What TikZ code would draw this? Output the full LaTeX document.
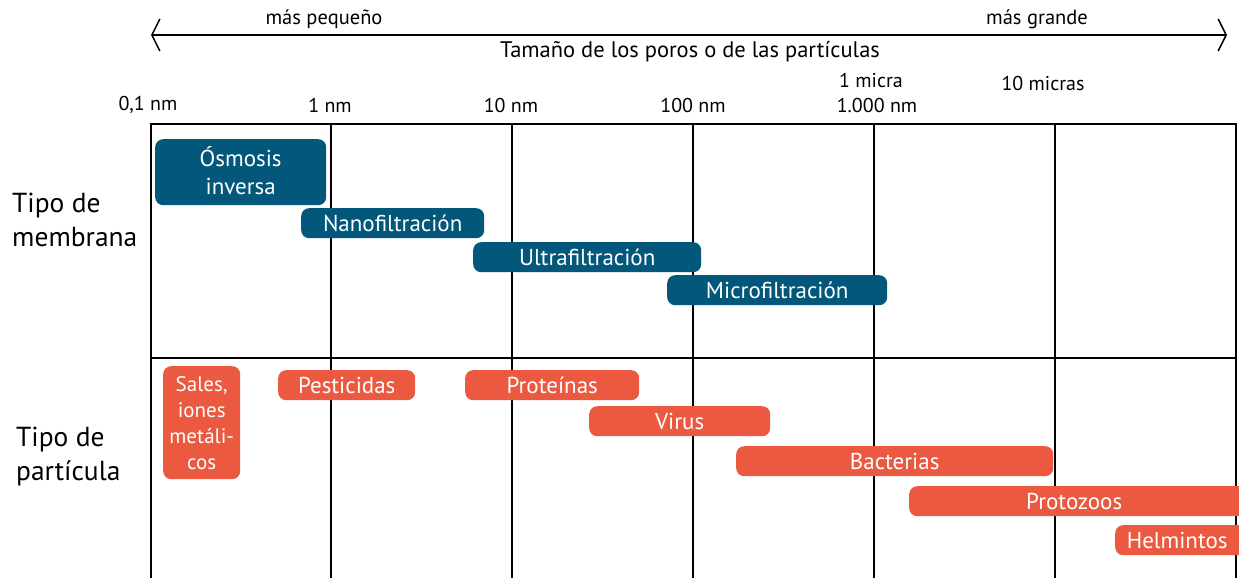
\documentclass[tikz,border=0pt]{standalone}
\usepackage{fontspec}
\setmainfont{PT Sans}
\usetikzlibrary{arrows.meta}
\definecolor{memb}{HTML}{03577A}
\definecolor{part}{HTML}{EB5A40}
\begin{document}
\begin{tikzpicture}[x=1pt,y=-1pt,
  grid/.style={line width=2pt,black},
  mbox/.style={fill=memb,rounded corners=8pt,anchor=north west,inner sep=0pt,text=white,font=\fontsize{23}{28}\selectfont,align=center},
  pbox/.style={fill=part,rounded corners=8pt,anchor=north west,inner sep=0pt,text=white,font=\fontsize{23}{25}\selectfont,align=center},
  hdr/.style={font=\fontsize{20.5}{22}\selectfont,inner sep=0pt},
  tick/.style={font=\fontsize{20}{22}\selectfont,inner sep=0pt},
  side/.style={font=\fontsize{27.5}{34}\selectfont,align=left,anchor=west,inner sep=0pt}]
\useasboundingbox (0,0) rectangle (1239,578);
\clip (0,0) rectangle (1239,578);
% header arrow
\coordinate (aL) at (151,35);
\coordinate (aR) at (1227,35);
\draw[line width=1.5pt,{Straight Barb[length=8pt,width=32pt]}-{Straight Barb[length=8pt,width=32pt]}] (aL) -- (aR);
\node[hdr] (small) at (324,19) {más pequeño};
\node[hdr] (big) at (1037,19) {más grande};
\node[hdr,font=\fontsize{22.5}{24}\selectfont] (title) at (690,52) {Tamaño de los poros o de las partículas};
% ticks
\node[tick] (t0) at (148,105) {0,1 nm};
\node[tick] (t1) at (330,105) {1 nm};
\node[tick] (t2) at (511,105) {10 nm};
\node[tick] (t3) at (693,105) {100 nm};
\node[tick] (t4a) at (871,81) {1 micra};
\node[tick] (t4b) at (877,105) {1.000 nm};
\node[tick] (t5) at (1043,83) {10 micras};
% grid
\foreach \xx in {151,331,512,693,874,1055,1236}{\draw[grid] (\xx,124) -- (\xx,580);}
\draw[grid] (150,124) -- (1237,124);
\draw[grid] (150,358) -- (1237,358);
% side labels
\node[side] (lm) at (12,220) {Tipo de\\membrana};
\node[side] (lp) at (16,457) {Tipo de\\partícula};
% membranes
\node[mbox,minimum width=171pt,minimum height=66pt] (osm) at (155,139) {Ósmosis\\inversa\rule[-4pt]{0pt}{4pt}};
\node[mbox,minimum width=183pt,minimum height=30pt] (nano) at (301,208) {Nanofiltración};
\node[mbox,minimum width=228pt,minimum height=30pt] (ultra) at (473,242) {Ultrafiltración};
\node[mbox,minimum width=220pt,minimum height=30pt] (micro) at (667,275) {Microfiltración};
% particles
\node[pbox,minimum width=77pt,minimum height=113pt,font=\fontsize{21}{26}\selectfont] (sales) at (163,366) {Sales,\\iones\\metáli-\\cos};
\node[pbox,minimum width=137pt,minimum height=30pt] (pest) at (278,370) {Pesticidas};
\node[pbox,minimum width=174pt,minimum height=30pt] (prot) at (465,370) {Proteínas};
\node[pbox,minimum width=181pt,minimum height=30pt] (vir) at (589,406) {Virus};
\node[pbox,minimum width=317pt,minimum height=30pt] (bact) at (736,446) {Bacterias};
\node[pbox,minimum width=340pt,minimum height=30pt] (protoz) at (909,486) {\hspace*{-10pt}Protozoos};
\node[pbox,minimum width=134pt,minimum height=30pt] (helm) at (1115,525) {\hspace*{-10pt}Helmintos};
\end{tikzpicture}
\end{document}
